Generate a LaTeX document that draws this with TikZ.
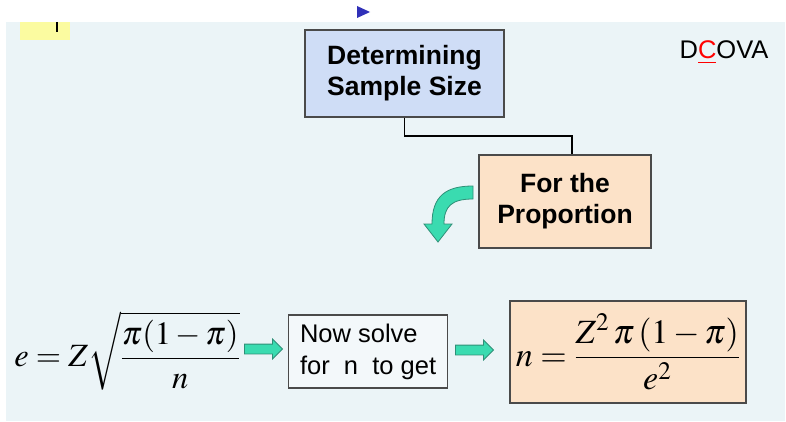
\documentclass[tikz,border=0pt]{standalone}
\usepackage{mathptmx}
\usepackage{fontspec}
\setmainfont{Liberation Sans}
\usetikzlibrary{shapes.arrows,calc}
\definecolor{bgpanel}{HTML}{EBF4F7}
\definecolor{bluebox}{HTML}{CFDDF6}
\definecolor{peach}{HTML}{FCE2C8}
\definecolor{arrowgreen}{HTML}{3ADBB0}
\definecolor{arrowedge}{HTML}{2E8F77}
\definecolor{boxedge}{HTML}{4A4A4A}
\definecolor{tri}{HTML}{3030B8}
\definecolor{yellowpatch}{HTML}{FBFBA0}
\tikzset{
  headbox/.style={draw=boxedge, line width=1.6pt, inner sep=0pt, align=center,
    font=\fontsize{26.5}{31}\selectfont\bfseries},
  blockarrow/.style={single arrow, draw=arrowedge, fill=arrowgreen, line width=0.8pt,
    inner sep=4.5pt, single arrow head extend=5pt, minimum height=38pt, anchor=center},
  elbow/.style={draw=black, line width=1.8pt}
}
\begin{document}
\begin{tikzpicture}[x=1pt,y=-1pt]
\useasboundingbox (0,0) rectangle (786,422);
\fill[white] (0,0) rectangle (786,422);
\fill[bgpanel] (6,22) rectangle (785,421);
% top fragments
\fill[yellowpatch] (20,22) rectangle (70,40);
\draw[black, line width=1.2pt] (57,22) -- (57,32);
\fill[tri] (357,6) -- (370,12) -- (357,18) -- cycle;
% header boxes
\node[headbox, fill=bluebox, minimum width=199pt, minimum height=87pt] (det) at (404.5,73.5)
  {Determining\\Sample Size};
\node[headbox, fill=peach, minimum width=172pt, minimum height=93pt] (prop) at (565,201.5)
  {For the\\Proportion};
\draw[elbow] (det.south) |- (572,136) -- (prop.north -| 572,0);
% DCOVA
\node[font=\fontsize{25.5}{28}\selectfont, anchor=center] (dcova) at (724,52)
  {D\textcolor{red}{\underline{C}}OVA};
% curved green arrow
\filldraw[fill=arrowgreen, draw=arrowedge, line width=0.8pt]
  (473,186) .. controls (446,186) and (432,196) .. (432,224)
  -- (424,224) -- (438,242) -- (452,224) -- (444,224)
  .. controls (444,206) and (452,199) .. (473,199) -- cycle;
% formulas row
\node[font=\fontsize{32.5}{35}\selectfont, inner sep=0pt] (eq1) at (127,351)
  {$\displaystyle e=Z\sqrt{\frac{\pi(1-\pi)}{n}}$};
\node[draw=boxedge, line width=1.2pt, fill=white!40!bgpanel, minimum width=159pt,
  minimum height=73pt, align=left, inner sep=7pt, anchor=west,
  font=\fontsize{25.5}{32}\selectfont] (solve) at (288,351.5)
  {Now solve\\for\ \ n\ \ to get};
\node[draw=boxedge, line width=1.6pt, fill=peach, minimum width=236pt, minimum height=102pt,
  inner sep=0pt, font=\fontsize{34}{37}\selectfont] (res) at (628,352)
  {$\displaystyle n=\frac{Z^{2}\,\pi\,(1-\pi)}{e^{2}}$};
\node[blockarrow] (a1) at (261,349) {};
\node[blockarrow] (a2) at (472,350) {};
\end{tikzpicture}
\end{document}
